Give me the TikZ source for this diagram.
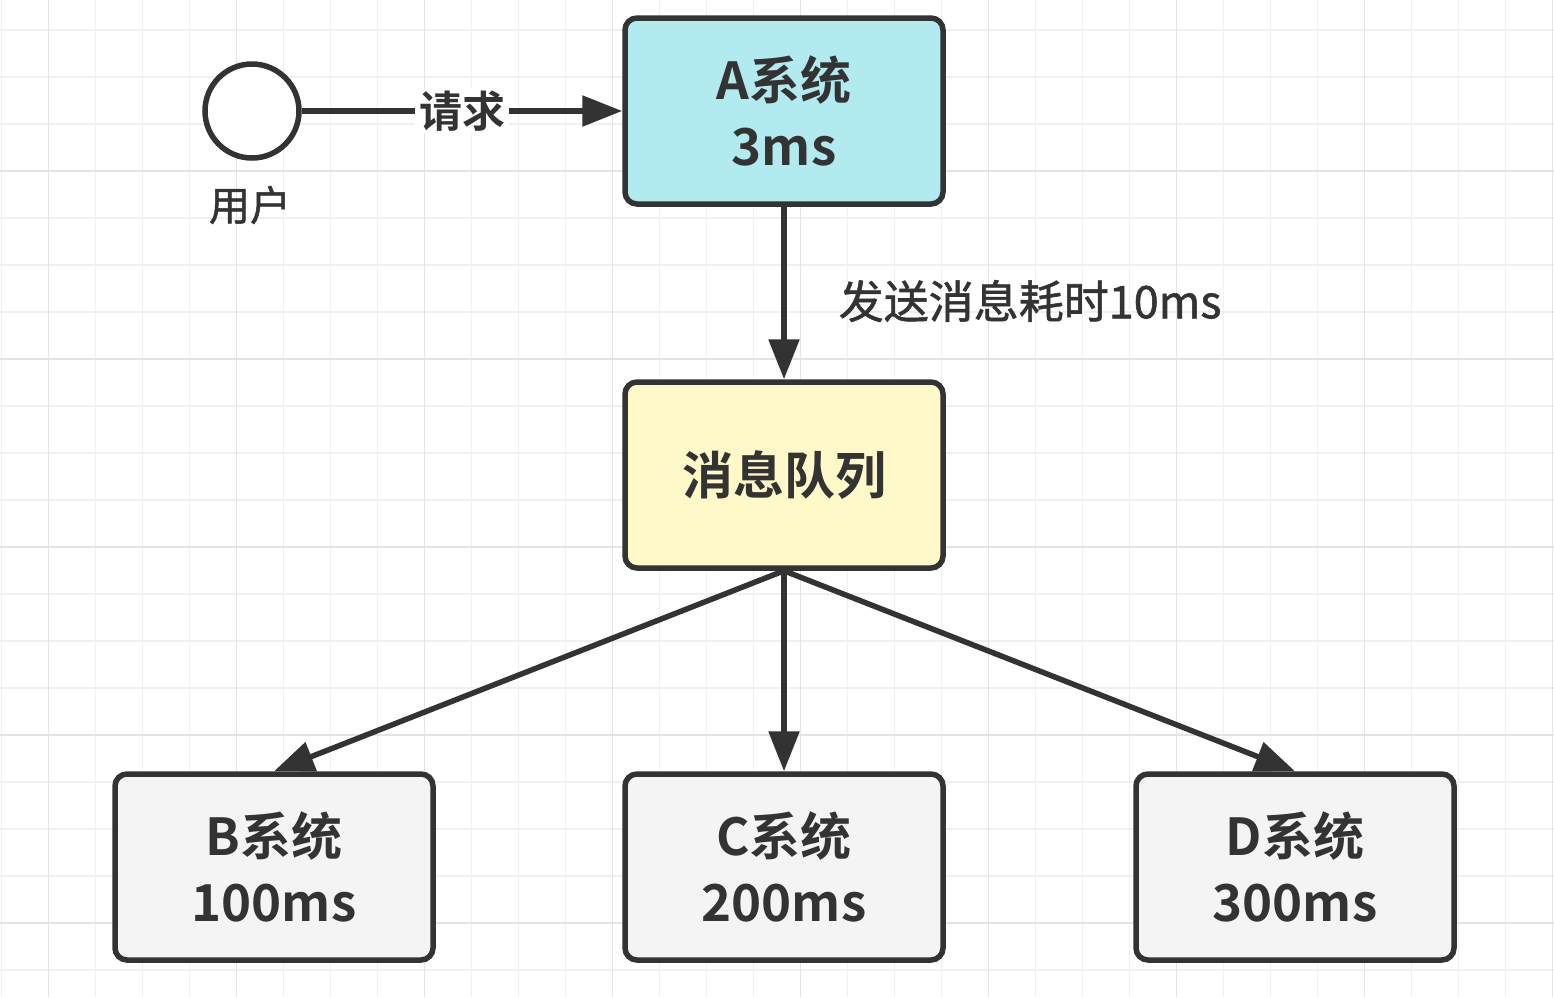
\documentclass[tikz,border=0pt]{standalone}
\usepackage{fontspec}
\setmainfont{Noto Sans CJK SC}[BoldFont={Noto Sans CJK SC Bold}]
\newfontfamily\medfont{Noto Sans CJK SC}[FakeBold=1.2]
\usetikzlibrary{arrows.meta}
\definecolor{ink}{HTML}{333333}
\definecolor{afill}{HTML}{B1EAEF}
\definecolor{qfill}{HTML}{FFF8C8}
\definecolor{gfill}{HTML}{F4F4F4}
\definecolor{gminor}{HTML}{F0F0F0}
\definecolor{gmajor}{HTML}{E4E4E4}
\tikzset{
  sysbox/.style={draw=ink, line width=5.5pt, rounded corners=12pt, minimum width=318pt, minimum height=186pt, inner sep=0pt, align=center, text=ink, font=\bfseries\fontsize{51}{66}\selectfont},
  conn/.style={draw=ink, line width=5.5pt, -{Triangle[length=40pt,width=30pt]}},
  lbl/.style={text=ink, inner sep=2pt},
}
\begin{document}
\begin{tikzpicture}[x=1pt,y=-1pt]
\useasboundingbox (0,0) rectangle (1554,997);
\fill[white] (0,0) rectangle (1554,997);
% grid
\foreach \i in {0,...,33} {
  \pgfmathsetmacro{\xx}{1.7+47*\i}
  \draw[gminor, line width=1.3pt] (\xx,0) -- (\xx,997);
}
\foreach \i in {0,...,22} {
  \pgfmathsetmacro{\yy}{-17+47*\i}
  \draw[gminor, line width=1.3pt] (0,\yy) -- (1554,\yy);
}
\foreach \i in {0,...,8} {
  \pgfmathsetmacro{\xx}{48.7+188*\i}
  \draw[gmajor, line width=1.3pt] (\xx,0) -- (\xx,997);
}
\foreach \i in {0,...,5} {
  \pgfmathsetmacro{\yy}{171+188*\i}
  \draw[gmajor, line width=1.3pt] (0,\yy) -- (1554,\yy);
}
% nodes
\node[circle, draw=ink, fill=white, line width=5.5pt, minimum size=94pt, inner sep=0pt] (user) at (252,111) {};
\node[lbl, font=\medfont\fontsize{41}{48}\selectfont] (userlbl) at (250,205) {用户};
\node[sysbox, fill=afill] (a) at (784,111) {A系统\\3ms};
\node[sysbox, fill=qfill] (q) at (784,475) {消息队列};
\node[sysbox, fill=gfill] (b) at (274,867) {B系统\\100ms};
\node[sysbox, fill=gfill] (c) at (784,867) {C系统\\200ms};
\node[sysbox, fill=gfill] (d) at (1295,867) {D系统\\300ms};
% connectors
\draw[conn] (user.east) -- node[lbl, fill=white, font=\bfseries\fontsize{43}{48}\selectfont, inner xsep=4pt] (req) {请求} (a.west);
\draw[conn] (a.south) -- node[lbl, anchor=west, xshift=50pt, yshift=-8pt, font=\medfont\fontsize{45}{52}\selectfont] (send) {发送消息耗时10ms} (q.north);
\draw[conn] (q.south) -- (b.north);
\draw[conn] (q.south) -- (c.north);
\draw[conn] (q.south) -- (d.north);
\end{tikzpicture}
\end{document}
